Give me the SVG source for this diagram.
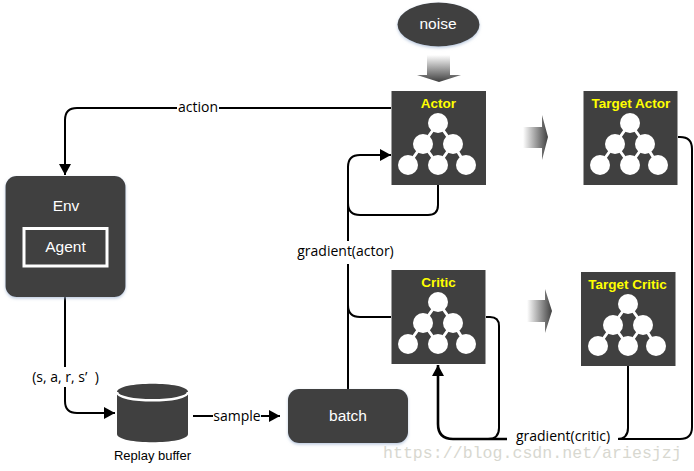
<svg xmlns="http://www.w3.org/2000/svg" width="694" height="471" viewBox="0 0 694 471">
<style>
.box{fill:#404040}
.shadow{filter:url(#sh)}
.t{font-family:"Liberation Sans",Arial,sans-serif;font-size:15.5px;fill:#fff;text-anchor:middle}
.h{font-family:"Liberation Sans",Arial,sans-serif;font-size:13.5px;font-weight:bold;fill:#ffff00;text-anchor:middle}
.l{font-family:"Open Sans","Noto Sans",sans-serif;font-size:14px;fill:#000;text-anchor:middle}
.c{fill:none;stroke:#000;stroke-width:2}
.lbg{fill:#fff}
.dot{fill:#fff}
.lnk{stroke:#fff;stroke-width:3}
</style>
<defs>
<marker id="a" markerUnits="userSpaceOnUse" markerWidth="12" markerHeight="14" refX="11" refY="7" orient="auto"><path d="M0 1L11 7L0 13z" fill="#000"/></marker>
<filter id="sh" x="-10%" y="-10%" width="120%" height="125%"><feDropShadow dx="0" dy="1.5" stdDeviation="1.5" flood-color="#9fb4d0" flood-opacity=".7"/></filter>
<linearGradient id="gv" x1="0" y1="0" x2="0" y2="1"><stop offset="0" stop-color="#404040" stop-opacity="0"/><stop offset="1" stop-color="#404040"/></linearGradient>
<linearGradient id="gh" x1="0" y1="0" x2="1" y2="0"><stop offset="0" stop-color="#404040" stop-opacity="0"/><stop offset="1" stop-color="#404040"/></linearGradient>
<g id="tree">
<path class="lnk" d="M47 32L32 53M47 32L62 53M32 53L17 74M32 53L47 74M62 53L47 74M62 53L75 74" fill="none"/>
<circle class="dot" cx="47" cy="32" r="10"/><circle class="dot" cx="32" cy="53" r="10"/><circle class="dot" cx="62" cy="53" r="10"/>
<circle class="dot" cx="17" cy="74" r="10"/><circle class="dot" cx="47" cy="74" r="10"/><circle class="dot" cx="75" cy="74" r="10"/>
</g>
</defs>
<rect width="694" height="471" fill="#fff"/>

<g id="connectors">
<path class="c" d="M391 108H77Q65 108 65 120V175" marker-end="url(#a)"/>
<path class="c" d="M348 389V167Q348 155 360 155H391" marker-end="url(#a)"/>
<path class="c" d="M438 185V205Q438 215 428 215H360Q348 215 348 203"/>
<path class="c" d="M391 317H360Q348 317 348 305"/>
<path class="c" d="M486 317H490Q499 317 499 326V428Q499 439 488 439H455"/>
<path class="c" style="stroke-width:2.6" d="M507 439H453Q438 439 438 424V365" marker-end="url(#a)"/>
<path class="c" d="M618 439H680Q692 439 692 427V149Q692 137 680 137H678"/>
<path class="c" d="M628 366V428Q628 439 617 439"/>
<path class="c" d="M65 296V401Q65 413 77 413H115" marker-end="url(#a)"/>
<path class="c" d="M193 416H280" marker-end="url(#a)"/>
</g>

<g id="arrows">
<path d="M427 55H450V75H461L439 82L417 75H427z" fill="url(#gv)"/>
<path d="M523 127H542V115L548 137L542 160V148H523z" fill="url(#gh)"/>
<path d="M527 300H545V289L552 311L545 333V322H527z" fill="url(#gh)"/>
</g>

<g id="noise"><ellipse class="box shadow" cx="438.5" cy="24.5" rx="41" ry="22"/><text class="t" x="438" y="29">noise</text></g>

<g id="actor"><rect class="box" x="391.500" y="91" width="94.500" height="94"/><text class="h" x="438.500" y="108">Actor</text><use href="#tree" x="391" y="91"/></g>
<g id="target-actor"><rect class="box" x="583.500" y="91" width="94" height="94"/><text class="h" x="631" y="108">Target Actor</text><use href="#tree" x="583" y="91"/></g>
<g id="critic"><rect class="box" x="391.500" y="270" width="94" height="94"/><text class="h" x="438.500" y="287">Critic</text><use href="#tree" x="391" y="270"/></g>
<g id="target-critic"><rect class="box" x="581" y="272" width="94.500" height="94"/><text class="h" x="627.500" y="289">Target Critic</text><use href="#tree" x="581" y="272"/></g>

<g id="env"><rect class="box shadow" x="5.500" y="176" width="120" height="121" rx="11"/><text class="t" x="66" y="211">Env</text>
<rect x="24" y="228.500" width="83" height="37.500" fill="#404040" stroke="#fff" stroke-width="3"/><text class="t" x="65.500" y="252">Agent</text></g>

<g id="replay-buffer">
<path class="box" d="M117 392C117 381 188 381 188 392V434C188 445 117 445 117 434z"/>
<path d="M117 392C117 403 188 403 188 392" fill="none" stroke="#fff" stroke-width="2.500"/>
<text x="152.500" y="460" style="font-family:'Liberation Sans',sans-serif;font-size:13px;text-anchor:middle">Replay buffer</text>
</g>

<g id="batch"><rect class="box shadow" x="288" y="389" width="120" height="54" rx="11"/><text class="t" x="348" y="421">batch</text></g>

<g id="labels">
<rect class="lbg" x="177" y="100" width="42" height="15"/><text class="l" x="198" y="112">action</text>
<rect class="lbg" x="296" y="241" width="100" height="23"/><text class="l" x="345.500" y="256">gradient(actor)</text>
<rect class="lbg" x="507" y="428" width="111" height="20"/><text class="l" x="563" y="441">gradient(critic)</text>
<rect class="lbg" x="26" y="367" width="80" height="20"/><text class="l" x="65.500" y="382">(s, a, r, s’ &#160;)</text>
<rect class="lbg" x="213" y="409" width="48" height="15"/><text class="l" x="237" y="421">sample</text>
</g>

<text x="383" y="458" style="font-family:'Liberation Mono',monospace;font-size:16.600px;fill:#d8d8d0">https://blog.csdn.net/ariesjzj</text>
</svg>
